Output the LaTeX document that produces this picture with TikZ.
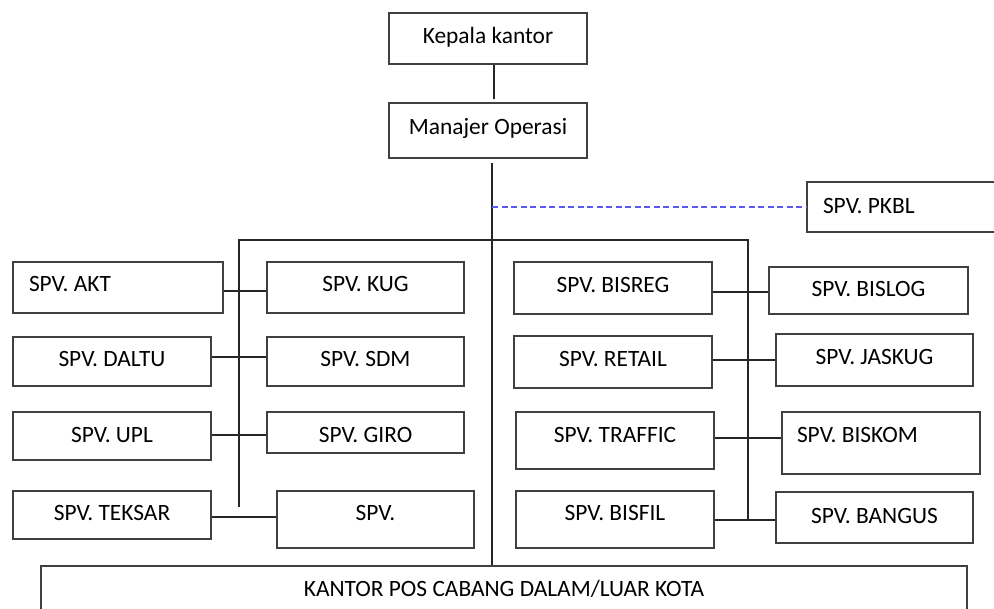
\documentclass[tikz,border=0pt]{standalone}
\usepackage{fontspec}
\setmainfont{Carlito}
\begin{document}
\begin{tikzpicture}[x=1pt,y=-1pt,
  box/.style={draw=black!75, line width=1.3pt, rectangle, inner sep=0pt,
    font=\fontsize{23.4}{28}\selectfont, text=black,
    text height=15pt, text depth=6pt},
  link/.style={draw=black!85, line width=1.1pt},
  staff/.style={draw={rgb,255:red,90;green,90;blue,240}, line width=1.2pt,
    dash pattern=on 6pt off 3.5pt}]
\clip (0,0) rectangle (994,609);

% management
\node[box, minimum width=198pt, minimum height=51pt, text depth=4.4pt] (kepala) at (488,38.5) {Kepala kantor};
\node[box, minimum width=198pt, minimum height=55pt, text depth=7.4pt] (manajer) at (488,130.5) {Manajer Operasi};
\node[box, minimum width=193pt, minimum height=50pt, text depth=2.4pt] (pkbl) at (903.5,207) {\makebox[161pt][l]{SPV. PKBL}};

% left block
\node[box, minimum width=210pt, minimum height=51pt, text depth=7.4pt] (akt) at (118,287.5) {\makebox[178pt][l]{SPV. AKT}};
\node[box, minimum width=197pt, minimum height=51pt, text depth=7.4pt] (kug) at (365.5,287.5) {SPV. KUG};
\node[box, minimum width=198pt, minimum height=49pt, text depth=5.4pt] (daltu) at (112,361.5) {SPV. DALTU};
\node[box, minimum width=197pt, minimum height=49pt, text depth=5.4pt] (sdm) at (365.5,361.5) {SPV. SDM};
\node[box, minimum width=198pt, minimum height=48pt, text depth=2.4pt] (upl) at (112,436) {SPV. UPL};
\node[box, minimum width=197pt, minimum height=41pt, text height=20pt, text depth=0.4pt] (giro) at (365.5,432.5) {SPV. GIRO};
\node[box, minimum width=198pt, minimum height=48pt, text depth=3.8pt] (teksar) at (112,515) {SPV. TEKSAR};
\node[box, minimum width=197pt, minimum height=57pt, text depth=12.4pt] (spvx) at (375.5,519.5) {SPV.};

% right block
\node[box, minimum width=198pt, minimum height=52pt, text depth=6.4pt] (bisreg) at (613,288) {SPV. BISREG};
\node[box, minimum width=199pt, minimum height=47pt, text depth=3.4pt] (bislog) at (868.5,290.5) {SPV. BISLOG};
\node[box, minimum width=198pt, minimum height=52pt, text depth=5.8pt] (retail) at (613,362) {SPV. RETAIL};
\node[box, minimum width=197pt, minimum height=52pt, text depth=5.8pt] (jaskug) at (874.5,360) {SPV. JASKUG};
\node[box, minimum width=198pt, minimum height=57pt, text depth=11.4pt] (traffic) at (615,440.5) {SPV. TRAFFIC};
\node[box, minimum width=198pt, minimum height=62pt, text depth=16.4pt] (biskom) at (881,443) {\makebox[168pt][l]{SPV. BISKOM}};
\node[box, minimum width=198pt, minimum height=57pt, text depth=12.4pt] (bisfil) at (615,519.5) {SPV. BISFIL};
\node[box, minimum width=197pt, minimum height=51pt, text depth=3.4pt] (bangus) at (874.5,517.5) {SPV. BANGUS};

% branch offices
\node[box, minimum width=926pt, minimum height=45pt, text depth=0pt] (cabang) at (504,588.5) {KANTOR POS CABANG DALAM/LUAR KOTA};

% main line of command
\draw[link] ([xshift=6pt]kepala.south) -- ([xshift=6pt,yshift=3pt]manajer.north);
\coordinate (trunk) at (492,163);
\draw[link] (trunk) -- (trunk |- cabang.north);
\draw[staff] (trunk |- pkbl.west) -- (pkbl.west);

% distribution bar with its two legs
\coordinate (barL) at (239,240);
\coordinate (barR) at (748,240);
\coordinate (legL) at (239,507);
\coordinate (legR) at (748,520);
\draw[link] (legL) -- (barL) -- (barR) -- (legR);

% row links between paired supervisors
\newcommand\pairlink[3]{%
  \path ([yshift=#3]#1.east) coordinate (pl);
  \draw[link] (pl) -- (pl -| #2.west);}
\pairlink{akt}{kug}{-3.5pt}
\pairlink{daltu}{sdm}{4.5pt}
\pairlink{upl}{giro}{1pt}
\pairlink{teksar}{spvx}{-2pt}
\pairlink{bisreg}{bislog}{-4pt}
\pairlink{retail}{jaskug}{2pt}
\pairlink{traffic}{biskom}{2.5pt}
\pairlink{bisfil}{bangus}{-0.5pt}
\end{tikzpicture}
\end{document}
